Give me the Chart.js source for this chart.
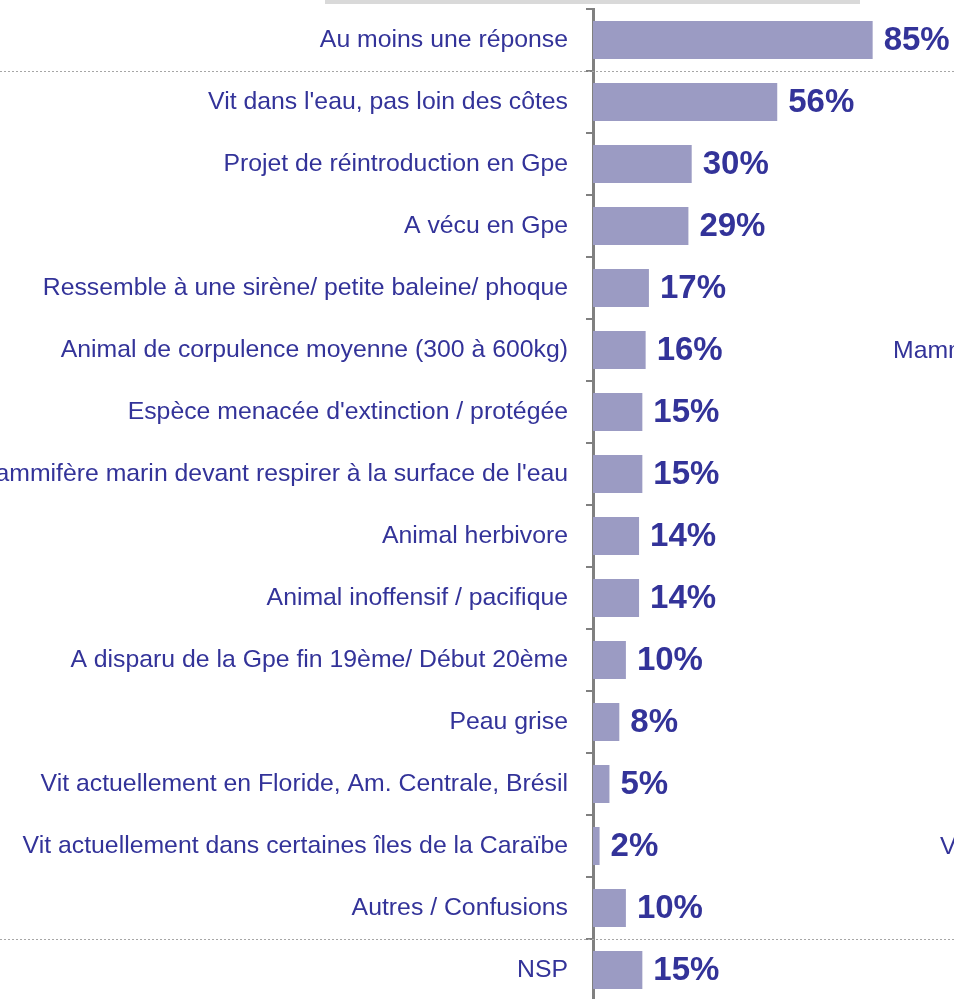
<!DOCTYPE html>
<html>
<head>
<meta charset="utf-8">
<script src="https://cdn.jsdelivr.net/npm/chart.js@4.4.1/dist/chart.umd.min.js"></script>
<style>
  html, body { margin: 0; padding: 0; background: #ffffff; overflow: hidden; }
  #wrap { position: relative; width: 954px; height: 1001px; }
</style>
</head>
<body>
<div id="wrap"><canvas id="c"></canvas></div>
<script>
const categories = [
  "Au moins une réponse",
  "Vit dans l'eau, pas loin des côtes",
  "Projet de réintroduction en Gpe",
  "A vécu en Gpe",
  "Ressemble à une sirène/ petite baleine/ phoque",
  "Animal de corpulence moyenne (300 à 600kg)",
  "Espèce menacée d'extinction / protégée",
  "Mammifère marin devant respirer à la surface de l'eau",
  "Animal herbivore",
  "Animal inoffensif / pacifique",
  "A disparu de la Gpe fin 19ème/ Début 20ème",
  "Peau grise",
  "Vit actuellement en Floride, Am. Centrale, Brésil",
  "Vit actuellement dans certaines îles de la Caraïbe",
  "Autres / Confusions",
  "NSP"
];
const values = [85, 56, 30, 29, 17, 16, 15, 15, 14, 14, 10, 8, 5, 2, 10, 15];
const valueLabels = ["85%", "56%", "30%", "29%", "17%", "16%", "15%", "15%", "14%", "14%", "10%", "8%", "5%", "2%", "10%", "15%"];
const separatorsAfter = [0, 14];
const sideTexts = [
  { text: "Mammifère", row: 5, x: 893 },
  { text: "Vit", row: 13, x: 940 }
];

const TEXT = '#333399';
const BAR = '#9b9bc3';
const AXIS = '#808080';
const AXIS_LEFT = 593;

const decor = {
  id: 'decor',
  beforeDraw(chart) {
    const ctx = chart.ctx;
    ctx.save();
    ctx.fillStyle = '#d9d9d9';
    ctx.fillRect(325, 0, 535, 4);
    ctx.restore();
  },
  afterDatasetsDraw(chart) {
    const ctx = chart.ctx;
    const ys = chart.scales.y;
    const meta = chart.getDatasetMeta(0);
    ctx.save();
    ctx.strokeStyle = '#a6a6a6';
    ctx.lineWidth = 1;
    ctx.setLineDash([2, 2]);
    separatorsAfter.forEach(i => {
      const y = Math.round(ys.getPixelForValue(i + 0.5)) + 0.5;
      ctx.beginPath();
      ctx.moveTo(0, y);
      ctx.lineTo(chart.width, y);
      ctx.stroke();
    });
    ctx.setLineDash([]);
    ctx.fillStyle = TEXT;
    ctx.font = 'bold 33px "Liberation Sans", Arial, sans-serif';
    ctx.textBaseline = 'middle';
    ctx.textAlign = 'left';
    meta.data.forEach((bar, i) => {
      ctx.fillText(valueLabels[i], bar.x + 11, bar.y + 1);
    });
    ctx.font = '24.8px "Liberation Sans", Arial, sans-serif';
    sideTexts.forEach(s => {
      ctx.fillText(s.text, s.x, ys.getPixelForValue(s.row) + 1);
    });
    ctx.restore();
  }
};

new Chart(document.getElementById('c'), {
  type: 'bar',
  data: {
    labels: categories,
    datasets: [{
      data: values,
      backgroundColor: BAR,
      borderWidth: 0,
      categoryPercentage: 1,
      barPercentage: 0.613
    }]
  },
  options: {
    indexAxis: 'y',
    responsive: true,
    maintainAspectRatio: false,
    animation: false,
    layout: { padding: { top: 9, right: 32, bottom: 0, left: 0 } },
    plugins: { legend: { display: false }, tooltip: { enabled: false } },
    scales: {
      x: { display: false, min: 0, max: 100 },
      y: {
        afterFit(scale) {
          scale.width = AXIS_LEFT;
          scale.paddingTop = 0;
          scale.paddingBottom = 0;
        },
        border: { display: true, color: AXIS, width: 3 },
        grid: {
          drawOnChartArea: false,
          drawTicks: true,
          tickLength: 7,
          color: AXIS,
          lineWidth: 2,
          offset: true
        },
        ticks: {
          color: TEXT,
          padding: 18,
          autoSkip: false,
          font: { family: '"Liberation Sans", Arial, sans-serif', size: 24.8 }
        }
      }
    }
  },
  plugins: [decor]
});
</script>
</body>
</html>
